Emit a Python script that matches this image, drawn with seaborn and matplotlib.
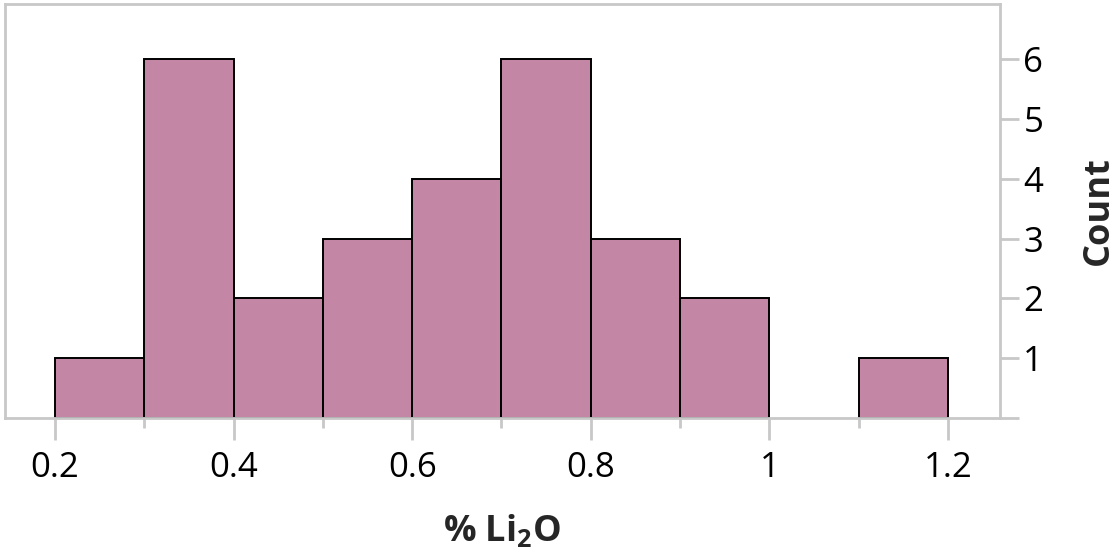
import numpy as np
import matplotlib
matplotlib.use("Agg")
import matplotlib.pyplot as plt
import seaborn as sns

# Histogram of lithium oxide content: bin edges and counts per bin
bin_edges = [0.2, 0.3, 0.4, 0.5, 0.6, 0.7, 0.8, 0.9, 1.0, 1.1, 1.2]
bin_counts = [1, 6, 2, 3, 4, 6, 3, 2, 0, 1]
x_ticks = [0.2, 0.4, 0.6, 0.8, 1.0, 1.2]
x_tick_labels = ["0.2", "0.4", "0.6", "0.8", "1", "1.2"]
y_ticks = [0, 1, 2, 3, 4, 5, 6]
y_tick_labels = ["", "1", "2", "3", "4", "5", "6"]

sns.set_theme(style="white")
plt.rcParams["font.family"] = ["Open Sans", "DejaVu Sans"]

centers = [(a + b) / 2 for a, b in zip(bin_edges[:-1], bin_edges[1:])]

fig = plt.figure(figsize=(11.17, 5.53), dpi=100)
ax = fig.add_axes([0.0045, 0.244, 0.8905, 0.749])

sns.histplot(x=centers, weights=bin_counts, bins=bin_edges, ax=ax,
             color="#C386A4", alpha=1.0, edgecolor="black", linewidth=1.4)

# empty bins should not leave an outline on the baseline
for p in ax.patches:
    if p.get_height() == 0:
        p.set_visible(False)

ax.set_xlim(0.144, 1.258)
ax.set_ylim(0, 6.92)

frame = "#c8c8c8"
for s in ax.spines.values():
    s.set_color(frame)
    s.set_linewidth(2)

ax.yaxis.tick_right()
ax.yaxis.set_label_position("right")
ax.set_yticks(y_ticks)
ax.set_yticklabels(y_tick_labels)
ax.set_xticks(x_ticks)
ax.set_xticklabels(x_tick_labels)
ax.set_xticks([0.3, 0.5, 0.7, 0.9, 1.1], minor=True)

ax.tick_params(axis="both", which="major", colors=frame, labelcolor="black",
               labelsize=25, width=2)
ax.tick_params(axis="x", which="major", length=16, pad=8, bottom=True)
ax.tick_params(axis="x", which="minor", length=7, width=2, colors=frame, bottom=True)
ax.tick_params(axis="y", which="major", length=14, pad=3, right=True, left=False)

ax.set_xlabel("% Li$_\\mathregular{2}$O", fontsize=26, fontweight="bold", labelpad=20)
ax.set_ylabel("Count", fontsize=26, fontweight="bold", labelpad=27)

fig.savefig("out.png", dpi=100)
